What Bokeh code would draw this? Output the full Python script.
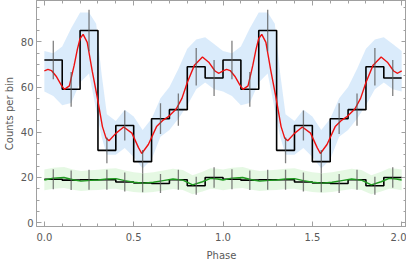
import numpy as np
from bokeh.plotting import figure
from bokeh.models import Range1d, LinearAxis, FixedTicker
from bokeh.embed import file_html
from bokeh.resources import INLINE

# ---------------- data (one phase cycle, shown twice) ----------------
bin_edges = [0.0, 0.1, 0.2, 0.3, 0.4, 0.5, 0.6, 0.7, 0.8, 0.9, 1.0]
upper_counts = [72, 59, 85, 32, 43, 27, 46, 50, 69, 64]
upper_err = [8.5, 7.7, 9.2, 5.7, 6.6, 5.2, 6.8, 7.1, 8.3, 8.0]
lower_counts = [19.2, 18.8, 19.0, 19.0, 18.0, 17.6, 17.3, 19.0, 16.3, 20.0]
lower_err = [4.4, 4.3, 4.4, 4.4, 4.2, 4.2, 4.2, 4.4, 4.0, 4.5]

red_phase = [0.00, 0.02, 0.04, 0.066, 0.094, 0.112, 0.14, 0.167, 0.185, 0.20, 0.217,
             0.24, 0.268, 0.296, 0.325, 0.345, 0.362, 0.40, 0.444, 0.49, 0.527,
             0.545, 0.582, 0.628, 0.665, 0.692, 0.738, 0.77, 0.80, 0.84, 0.885,
             0.92, 0.955, 0.977, 1.00]
red_model = [67.2, 67.8, 67.3, 64.8, 61.0, 59.0, 60.5, 69.7, 76.8, 81.5, 83.3,
             79.8, 67.0, 55.5, 42.5, 37.5, 36.2, 39.5, 42.3, 39.6, 33.2,
             30.6, 34.6, 42.5, 45.4, 46.8, 50.3, 55.0, 62.0, 69.7, 73.3,
             71.0, 67.1, 66.1, 67.2]

blue_phase = [0.00, 0.05, 0.10, 0.15, 0.20, 0.25, 0.29, 0.32, 0.35, 0.40, 0.45,
              0.50, 0.55, 0.60, 0.65, 0.70, 0.75, 0.80, 0.85, 0.90, 0.95, 1.00]
blue_low = [58, 56, 52, 53, 62, 66, 50, 38, 30, 30, 33,
            29, 24, 28, 38, 41, 46, 52, 59, 62, 59, 58]
blue_high = [76, 75, 78, 86, 93, 93, 88, 66, 48, 45, 50,
             47, 41, 46, 55, 60, 68, 77, 81, 82, 79, 76]

green_phase = [0.00, 0.05, 0.11, 0.16, 0.205, 0.26, 0.30, 0.35, 0.40, 0.45, 0.50,
               0.555, 0.61, 0.665, 0.72, 0.775, 0.83, 0.885, 0.93, 0.97, 1.00]
green_model = [18.9, 19.7, 20.0, 19.0, 18.4, 18.7, 18.9, 19.3, 19.5, 18.6, 17.9,
               17.5, 17.9, 18.6, 19.3, 18.8, 16.7, 18.1, 19.6, 19.3, 18.9]
green_low = [14.3, 15.0, 15.3, 14.6, 14.0, 14.3, 14.5, 14.9, 15.0, 14.2, 13.6,
             13.2, 13.6, 14.2, 14.9, 14.4, 12.6, 13.8, 15.0, 14.8, 14.3]
green_high = [23.5, 24.3, 24.6, 23.5, 22.9, 23.2, 23.4, 23.8, 24.1, 23.1, 22.3,
              21.9, 22.3, 23.1, 23.8, 23.3, 21.0, 22.5, 24.1, 23.8, 23.5]

x_ticks = [0.0, 0.5, 1.0, 1.5, 2.0]
y_ticks = [0, 20, 40, 60, 80]
n_cycles = 2

# ---------------- build two cycles ----------------
def two_cycles(ph, *vals):
    ph = np.asarray(ph, float)
    xs = np.concatenate([ph + k for k in range(n_cycles)])
    out = [np.concatenate([np.asarray(v, float)] * n_cycles) for v in vals]
    return (xs, *out)

edges = np.concatenate([np.asarray(bin_edges[:-1]) + k for k in range(n_cycles)] + [[float(n_cycles)]])
centers = edges[:-1] + 0.05
uc = np.concatenate([upper_counts] * n_cycles).astype(float)
ue = np.concatenate([upper_err] * n_cycles).astype(float)
lc = np.concatenate([lower_counts] * n_cycles).astype(float)
le = np.concatenate([lower_err] * n_cycles).astype(float)

rx, ry = two_cycles(red_phase, red_model)
bx, blo, bhi = two_cycles(blue_phase, blue_low, blue_high)
gx, gy, glo, ghi = two_cycles(green_phase, green_model, green_low, green_high)

# ---------------- figure ----------------
p = figure(frame_width=370, frame_height=226, output_backend="svg", toolbar_location=None,
           x_range=Range1d(-0.044, 2.027), y_range=Range1d(-1.7, 98.3),
           min_border_left=0, min_border_right=0, min_border_top=0, min_border_bottom=0)
p.xgrid.visible = False
p.ygrid.visible = False
p.outline_line_color = "#a0a0a0"
p.background_fill_color = "white"
p.border_fill_color = "white"

FONT = "DejaVu Sans"
AXC = "#a0a0a0"
LBL = "#5a5a5a"

def style_axis(ax, labels=True, tick_standoff=4, label_standoff=4):
    ax.axis_line_color = AXC
    ax.major_tick_line_color = AXC
    ax.minor_tick_line_color = AXC
    ax.major_tick_in = 5
    ax.major_tick_out = 0
    ax.minor_tick_in = 3
    ax.minor_tick_out = 0
    ax.major_label_text_font = FONT
    if labels:
        ax.major_label_text_color = LBL
        ax.major_label_text_font_size = "10px"
        ax.major_label_standoff = tick_standoff
    else:
        ax.major_label_text_color = None
        ax.major_label_text_font_size = "1px"
        ax.major_label_standoff = 0
    ax.axis_label_text_font = FONT
    ax.axis_label_text_font_style = "normal"
    ax.axis_label_text_color = LBL
    ax.axis_label_text_font_size = "10px"
    ax.axis_label_standoff = label_standoff

xt = FixedTicker(ticks=x_ticks, minor_ticks=[i / 10 for i in range(21)])
yt = FixedTicker(ticks=y_ticks, minor_ticks=list(range(0, 100, 5)))

p.xaxis.ticker = xt
p.yaxis.ticker = yt
p.xaxis.major_label_overrides = {t: f"{t:.1f}" for t in x_ticks}
p.xaxis.axis_label = "Phase"
p.yaxis.axis_label = "Counts per bin"
style_axis(p.xaxis[0], tick_standoff=6, label_standoff=6)
style_axis(p.yaxis[0], tick_standoff=3, label_standoff=3)

top = LinearAxis(ticker=xt)
right = LinearAxis(ticker=yt)
style_axis(top, labels=False)
style_axis(right, labels=False)
p.add_layout(top, "above")
p.add_layout(right, "right")

# bands
p.varea(x=bx, y1=blo, y2=bhi, fill_color="#d6e9fb", fill_alpha=0.9)
p.varea(x=gx, y1=glo, y2=ghi, fill_color="#e2f7e0", fill_alpha=0.9)

# histograms
p.step(x=edges, y=np.append(uc, uc[-1]), mode="after", line_color="black", line_width=1.6)
p.step(x=edges, y=np.append(lc, lc[-1]), mode="after", line_color="black", line_width=1.6)

# model curves
p.line(rx, ry, line_color="#ee1111", line_width=1.4)
p.line(gx, gy, line_color="#1f9a1f", line_width=1.4)

# error bars
p.segment(x0=centers, y0=uc - ue, x1=centers, y1=uc + ue, line_color="#555555", line_alpha=0.75, line_width=1.3)
p.segment(x0=centers, y0=lc - le, x1=centers, y1=lc + le, line_color="#555555", line_alpha=0.75, line_width=1.3)

open("out.html", "w").write(file_html(p, INLINE))
